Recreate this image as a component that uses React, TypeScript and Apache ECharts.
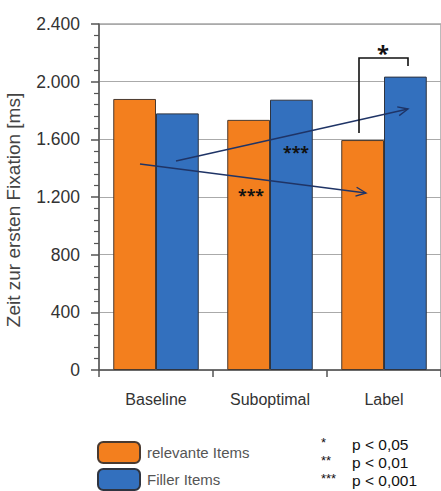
import React, { useEffect, useRef } from "react";
import * as echarts from "echarts";

const categories = ["Baseline", "Suboptimal", "Label"];
const relevanteItems = [1880, 1735, 1595];
const fillerItems = [1780, 1875, 2035];
const seriesNames = ["relevante Items", "Filler Items"];
const yAxisName = "Zeit zur ersten Fixation [ms]";
const sigLegend = [
  { stars: "*", text: "p < 0,05" },
  { stars: "**", text: "p < 0,01" },
  { stars: "***", text: "p < 0,001" },
];

const ARROW = "#1f3466";

function arrow(x1: number, y1: number, x2: number, y2: number) {
  const ang = Math.atan2(y2 - y1, x2 - x1);
  const len = 11;
  const spread = 0.42;
  const a1 = ang + Math.PI - spread;
  const a2 = ang + Math.PI + spread;
  return [
    {
      type: "line",
      shape: { x1, y1, x2, y2 },
      style: { stroke: ARROW, lineWidth: 1.4 },
      z: 100,
    },
    {
      type: "polyline",
      shape: {
        points: [
          [x2 + len * Math.cos(a1), y2 + len * Math.sin(a1)],
          [x2, y2],
          [x2 + len * Math.cos(a2), y2 + len * Math.sin(a2)],
        ],
      },
      style: { stroke: ARROW, lineWidth: 1.4, fill: null },
      z: 100,
    },
  ];
}

function fmt(v: number) {
  const s = String(Math.round(v));
  return s.replace(/\B(?=(\d{3})+(?!\d))/g, ".");
}

export default function App() {
  const ref = useRef<HTMLDivElement>(null);
  useEffect(() => {
    if (!ref.current) return;
    const chart = echarts.init(ref.current, undefined, { renderer: "svg" });
    const graphics: any[] = [
      ...arrow(176, 161, 408, 109),
      ...arrow(140, 164, 366, 193),
      {
        type: "text",
        x: 296,
        y: 152,
        style: { text: "***", font: "bold 16px 'Noto Sans'", fill: "#111", align: "center", verticalAlign: "middle" },
        z: 100,
      },
      {
        type: "text",
        x: 251,
        y: 195,
        style: { text: "***", font: "bold 16px 'Noto Sans'", fill: "#111", align: "center", verticalAlign: "middle" },
        z: 100,
      },
      {
        type: "polyline",
        shape: { points: [[359, 133], [359, 58], [408, 58], [408, 66]] },
        style: { stroke: "#111", lineWidth: 1.6, fill: null },
        z: 100,
      },
      {
        type: "text",
        x: 383,
        y: 52,
        style: { text: "*", font: "bold 22px 'Noto Sans'", fill: "#111", align: "center", verticalAlign: "middle" },
        z: 100,
      },
      {
        type: "text",
        x: 13,
        y: 210,
        rotation: Math.PI / 2,
        style: {
          text: yAxisName,
          font: "19px 'Liberation Sans', Arial, sans-serif",
          fill: "#444",
          align: "center",
          verticalAlign: "middle",
        },
      },
    ];
    sigLegend.forEach((r, i) => {
      graphics.push({
        type: "text",
        x: 321,
        y: 442 + i * 18,
        style: {
          text: r.stars,
          font: "13px 'Liberation Sans'",
          lineHeight: 14,
          fill: "#111",
          align: "left",
          verticalAlign: "middle",
        },
      });
      graphics.push({
        type: "text",
        x: 352,
        y: 444 + i * 18,
        style: {
          text: r.text,
          font: "15.5px 'Liberation Sans'",
          lineHeight: 16,
          fill: "#111",
          align: "left",
          verticalAlign: "middle",
        },
      });
    });

    chart.setOption({
      animation: false,
      textStyle: { fontFamily: "'Liberation Sans', Arial, sans-serif" },
      grid: {
        left: 99,
        top: 24,
        width: 346,
        height: 346,
        show: true,
        borderColor: "#777",
        borderWidth: 1,
        containLabel: false,
      },
      legend: {
        orient: "vertical",
        left: 97,
        top: 441,
        padding: 0,
        itemWidth: 42,
        itemHeight: 21,
        itemGap: 4,
        icon: "roundRect",
        selectedMode: false,
        textStyle: { fontSize: 15, color: "#555", padding: [0, 0, 0, 2] },
        data: seriesNames,
      },
      xAxis: {
        type: "category",
        data: categories,
        axisLine: { show: true, lineStyle: { color: "#555", width: 1.5 } },
        axisTick: { show: true, length: 7, lineStyle: { color: "#555", width: 1.5 } },
        axisLabel: { fontSize: 16, color: "#333", margin: 21 },
      },
      yAxis: {
        type: "value",
        min: 0,
        max: 2400,
        interval: 400,
        axisLine: { show: true, lineStyle: { color: "#555", width: 1.5 } },
        axisTick: { show: true, length: 8, lineStyle: { color: "#555", width: 1.5 } },
        minorTick: { show: true, splitNumber: 5, length: 5, lineStyle: { color: "#555", width: 1.2 } },
        axisLabel: { fontSize: 17.5, color: "#333", margin: 19, formatter: (v: number) => fmt(v) },
        splitLine: { show: true, lineStyle: { color: "#aaa", width: 1.2 } },
      },
      series: [
        {
          name: seriesNames[0],
          type: "bar",
          data: relevanteItems,
          barGap: "0%",
          barCategoryGap: "25%",
          itemStyle: { color: "#f37f1e", borderColor: "#4a3a30", borderWidth: 1 },
        },
        {
          name: seriesNames[1],
          type: "bar",
          data: fillerItems,
          barGap: "0%",
          barCategoryGap: "25%",
          itemStyle: { color: "#3370be", borderColor: "#2f3440", borderWidth: 1 },
        },
      ],
      graphic: graphics,
    });
    return () => chart.dispose();
  }, []);
  return <div ref={ref} style={{ width: 441, height: 491, position: "absolute", left: 0, top: 0 }} />;
}
